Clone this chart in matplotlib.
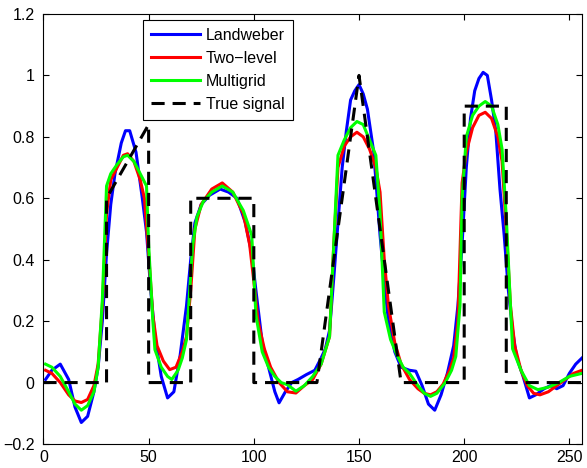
import matplotlib
matplotlib.use('Agg')
import matplotlib.pyplot as plt

# values
x_lw = [1, 4, 8, 12, 15, 18, 21, 24, 26, 28, 30, 32, 34, 37, 39, 41, 44, 47, 49, 51,
        53, 56, 59, 62, 65, 68, 70, 72, 75, 79, 84, 88, 92, 96, 99, 101, 104, 107, 110, 112,
        115, 118, 121, 125, 129, 132, 134, 136, 138, 140, 142, 144, 146, 148, 150, 152, 154, 157, 160, 162,
        164, 167, 170, 174, 177, 180, 183, 186, 189, 192, 195, 197, 199, 201, 203, 205, 207, 209, 211, 213,
        215, 217, 219, 221, 223, 225, 228, 231, 234, 238, 241, 244, 247, 250, 253, 256]
y_lw = [0.01, 0.04, 0.06, 0.01, -0.08, -0.13, -0.11, -0.03, 0.05, 0.20, 0.42, 0.58, 0.68, 0.78, 0.82, 0.82, 0.75, 0.60, 0.49, 0.30,
        0.15, 0.02, -0.05, -0.03, 0.09, 0.25, 0.40, 0.52, 0.58, 0.61, 0.63, 0.62, 0.60, 0.52, 0.42, 0.30, 0.13, 0.05, -0.03, -0.066,
        -0.03, 0.0, 0.01, 0.026, 0.04, 0.08, 0.11, 0.17, 0.34, 0.52, 0.70, 0.82, 0.92, 0.95, 0.97, 0.94, 0.89, 0.75, 0.48, 0.33,
        0.20, 0.10, 0.05, 0.04, 0.037, -0.01, -0.07, -0.09, -0.04, 0.03, 0.12, 0.25, 0.45, 0.70, 0.86, 0.95, 0.99, 1.01, 1.00, 0.92,
        0.82, 0.63, 0.48, 0.30, 0.17, 0.08, 0.02, -0.05, -0.04, -0.02, -0.01, -0.02, -0.01, 0.03, 0.06, 0.08]

x_tl = [1, 4, 8, 12, 15, 18, 21, 24, 26, 28, 30, 32, 35, 38, 40, 43, 46, 48, 50, 52,
        54, 57, 60, 63, 66, 68, 70, 72, 75, 80, 85, 90, 95, 98, 100, 102, 105, 108, 112, 116,
        120, 124, 128, 132, 136, 138, 140, 143, 146, 149, 152, 155, 158, 160, 162, 164, 167, 170, 174, 178,
        181, 184, 187, 190, 193, 195, 197, 199, 201, 204, 207, 210, 213, 216, 218, 220, 222, 224, 227, 230,
        233, 236, 240, 244, 248, 252, 256]
y_tl = [0.04, 0.03, 0.0, -0.04, -0.06, -0.065, -0.055, -0.01, 0.06, 0.25, 0.55, 0.66, 0.70, 0.74, 0.745, 0.72, 0.66, 0.60, 0.42, 0.22,
        0.12, 0.07, 0.042, 0.05, 0.10, 0.15, 0.30, 0.50, 0.58, 0.63, 0.65, 0.62, 0.55, 0.45, 0.33, 0.20, 0.11, 0.05, 0.0, -0.03,
        -0.034, -0.01, 0.01, 0.06, 0.15, 0.45, 0.70, 0.77, 0.80, 0.815, 0.80, 0.76, 0.70, 0.62, 0.40, 0.25, 0.13, 0.06, 0.01, -0.02,
        -0.035, -0.04, -0.03, -0.005, 0.04, 0.08, 0.20, 0.65, 0.75, 0.83, 0.87, 0.88, 0.86, 0.80, 0.72, 0.50, 0.25, 0.12, 0.04, -0.01,
        -0.035, -0.04, -0.03, -0.01, 0.01, 0.03, 0.04]

x_mg = [1, 4, 8, 12, 15, 18, 21, 24, 26, 28, 30, 32, 35, 38, 40, 43, 46, 49, 50, 52,
        53, 56, 59, 61, 64, 66, 68, 70, 71, 73, 76, 80, 85, 90, 95, 99, 101, 104, 107, 110,
        113, 116, 120, 124, 128, 132, 136, 138, 140, 143, 146, 149, 152, 155, 158, 160, 162, 165, 168, 171,
        174, 178, 181, 184, 187, 191, 194, 196, 198, 199, 201, 204, 207, 210, 213, 216, 218, 220, 221.5, 223,
        227, 231, 235, 240, 245, 250, 256]
y_mg = [0.06, 0.05, 0.02, -0.03, -0.07, -0.09, -0.075, -0.03, 0.05, 0.27, 0.64, 0.68, 0.71, 0.735, 0.74, 0.72, 0.68, 0.64, 0.45, 0.20,
        0.107, 0.05, 0.02, 0.01, 0.04, 0.08, 0.14, 0.35, 0.45, 0.54, 0.59, 0.62, 0.64, 0.62, 0.56, 0.48, 0.22, 0.10, 0.05, 0.02,
        0.0, -0.007, -0.028, -0.01, 0.02, 0.06, 0.15, 0.45, 0.74, 0.79, 0.83, 0.85, 0.84, 0.79, 0.74, 0.55, 0.23, 0.14, 0.09, 0.05,
        0.03, -0.01, -0.035, -0.045, -0.035, 0.0, 0.04, 0.085, 0.25, 0.60, 0.80, 0.87, 0.90, 0.915, 0.90, 0.84, 0.76, 0.54, 0.32, 0.11,
        0.04, -0.01, -0.023, -0.015, 0.0, 0.02, 0.03]

x_true = [0, 30, 30, 50, 50, 70, 70, 100, 100, 130, 150, 170, 200, 200, 220, 220, 256]
y_true = [0, 0, 0.6, 0.84, 0, 0, 0.6, 0.6, 0, 0, 1.0, 0, 0, 0.9, 0.9, 0, 0]

xticks = [0, 50, 100, 150, 200, 250]
yticks = [-0.2, 0, 0.2, 0.4, 0.6, 0.8, 1.0, 1.2]
ylabels = ['\u22120.2', '0', '0.2', '0.4', '0.6', '0.8', '1', '1.2']

plt.rcParams['font.family'] = ['Liberation Sans', 'DejaVu Sans']

fig = plt.figure(figsize=(5.87, 4.68), dpi=100)
ax = fig.add_axes([0.074, 0.0513, 0.9175, 0.9188])

ax.plot(x_lw, y_lw, color=(0, 0, 1), lw=2.2, label='Landweber')
ax.plot(x_tl, y_tl, color=(1, 0, 0), lw=2.2, label='Two\u2212level')
ax.plot(x_mg, y_mg, color=(0, 1, 0), lw=2.2, label='Multigrid')
ax.plot(x_true, y_true, color='k', lw=2.2, dashes=(4.3, 2.6), label='True signal')

ax.set_xlim(0, 256)
ax.set_ylim(-0.2, 1.2)
ax.set_xticks(xticks)
ax.set_xticklabels([str(t) for t in xticks])
ax.set_yticks(yticks)
ax.set_yticklabels(ylabels)
ax.tick_params(direction='in', top=True, right=True, length=4, width=0.8, labelsize=11.5)
ax.tick_params(axis='x', pad=4)
ax.tick_params(axis='y', pad=6.5)
for s in ax.spines.values():
    s.set_linewidth(0.8)

leg = ax.legend(loc='upper left', bbox_to_anchor=(0.184, 0.986), fancybox=False,
                edgecolor='k', framealpha=1, fontsize=11.5, handlelength=3.1,
                labelspacing=0.5, borderpad=0.5, handletextpad=0.35, borderaxespad=0)
leg.get_frame().set_linewidth(0.8)

fig.savefig('out.png', dpi=100)
